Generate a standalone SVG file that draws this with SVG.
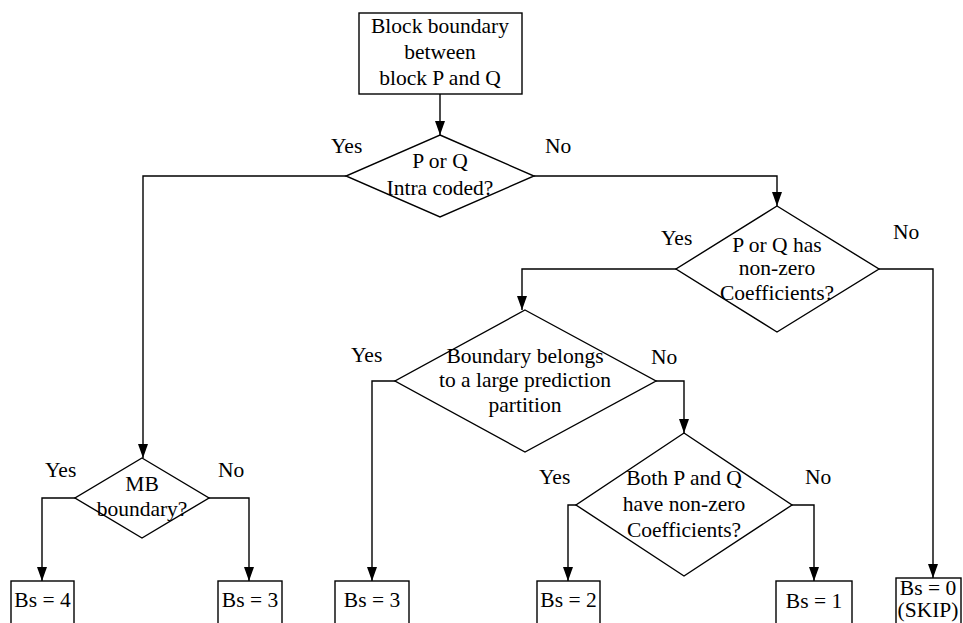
<svg xmlns="http://www.w3.org/2000/svg" width="963" height="623" viewBox="0 0 963 623">
<defs>
<marker id="arr" viewBox="0 0 14 10" refX="14" refY="5" markerWidth="14" markerHeight="10" markerUnits="userSpaceOnUse" orient="auto">
<path d="M0,0 L14,5 L0,10 Z" fill="#000"/>
</marker>
<style>
.s{fill:#fff;stroke:#000;stroke-width:1.4}
.c{fill:none;stroke:#000;stroke-width:1.4;marker-end:url(#arr)}
text{font-family:"Liberation Serif","Times New Roman",serif;font-size:21.5px;fill:#000}
.m{text-anchor:middle}
</style>
</defs>
<rect width="963" height="623" fill="#fff"/>
<g id="connectors">
<path class="c" d="M440,94 V135"/>
<path class="c" d="M346,176 H143 V458"/>
<path class="c" d="M534,176 H777 V206"/>
<path class="c" d="M676,269 H522 V310"/>
<path class="c" d="M879,269 H933 V578"/>
<path class="c" d="M395,381 H372 V581"/>
<path class="c" d="M656,381 H684 V433"/>
<path class="c" d="M576,505 H568 V581"/>
<path class="c" d="M792,505 H814 V581"/>
<path class="c" d="M75,498 H42 V581"/>
<path class="c" d="M209,498 H249 V581"/>
</g>
<g id="labels">
<text x="331" y="153">Yes</text>
<text x="545" y="153">No</text>
<text x="661" y="245">Yes</text>
<text x="893" y="239">No</text>
<text x="351" y="362">Yes</text>
<text x="651" y="364">No</text>
<text x="539" y="484">Yes</text>
<text x="805" y="484">No</text>
<text x="45" y="477">Yes</text>
<text x="218" y="477">No</text>
</g>
<g id="start">
<rect class="s" x="359" y="13" width="163" height="81"/>
<text class="m" x="440" y="33">Block boundary</text>
<text class="m" x="440" y="59">between</text>
<text class="m" x="440" y="85">block P and Q</text>
</g>
<g id="d-intra">
<polygon class="s" points="440,135 534,176 440,217 346,176"/>
<text class="m" x="440" y="168">P or Q</text>
<text class="m" x="440" y="195">Intra coded?</text>
</g>
<g id="d-coef">
<polygon class="s" points="777,206 879,269 777,332 676,269"/>
<text class="m" x="777" y="252">P or Q has</text>
<text class="m" x="777" y="275">non-zero</text>
<text class="m" x="777" y="300">Coefficients?</text>
</g>
<g id="d-partition">
<polygon class="s" points="525,310 656,381 525,452 395,381"/>
<text class="m" x="525" y="363">Boundary belongs</text>
<text class="m" x="525" y="387">to a large prediction</text>
<text class="m" x="525" y="412">partition</text>
</g>
<g id="d-both">
<polygon class="s" points="684,433 792,505 684,576 576,505"/>
<text class="m" x="684" y="485">Both P and Q</text>
<text class="m" x="684" y="511">have non-zero</text>
<text class="m" x="684" y="537">Coefficients?</text>
</g>
<g id="d-mb">
<polygon class="s" points="142,458 209,498 142,538 75,498"/>
<text class="m" x="142" y="491">MB</text>
<text class="m" x="142" y="516">boundary?</text>
</g>
<g id="bs4">
<rect class="s" x="11" y="581" width="63" height="60"/>
<text class="m" x="42.5" y="607">Bs = 4</text>
</g>
<g id="bs3a">
<rect class="s" x="218" y="581" width="64" height="60"/>
<text class="m" x="250" y="607">Bs = 3</text>
</g>
<g id="bs3b">
<rect class="s" x="335" y="581" width="74" height="60"/>
<text class="m" x="372" y="607">Bs = 3</text>
</g>
<g id="bs2">
<rect class="s" x="537" y="581" width="63" height="60"/>
<text class="m" x="568.5" y="607">Bs = 2</text>
</g>
<g id="bs1">
<rect class="s" x="776" y="581" width="76" height="60"/>
<text class="m" x="814" y="608">Bs = 1</text>
</g>
<g id="bs0">
<rect class="s" x="896" y="578" width="65" height="60"/>
<text class="m" x="928" y="595">Bs = 0</text>
<text class="m" x="928" y="617">(SKIP)</text>
</g>
</svg>
